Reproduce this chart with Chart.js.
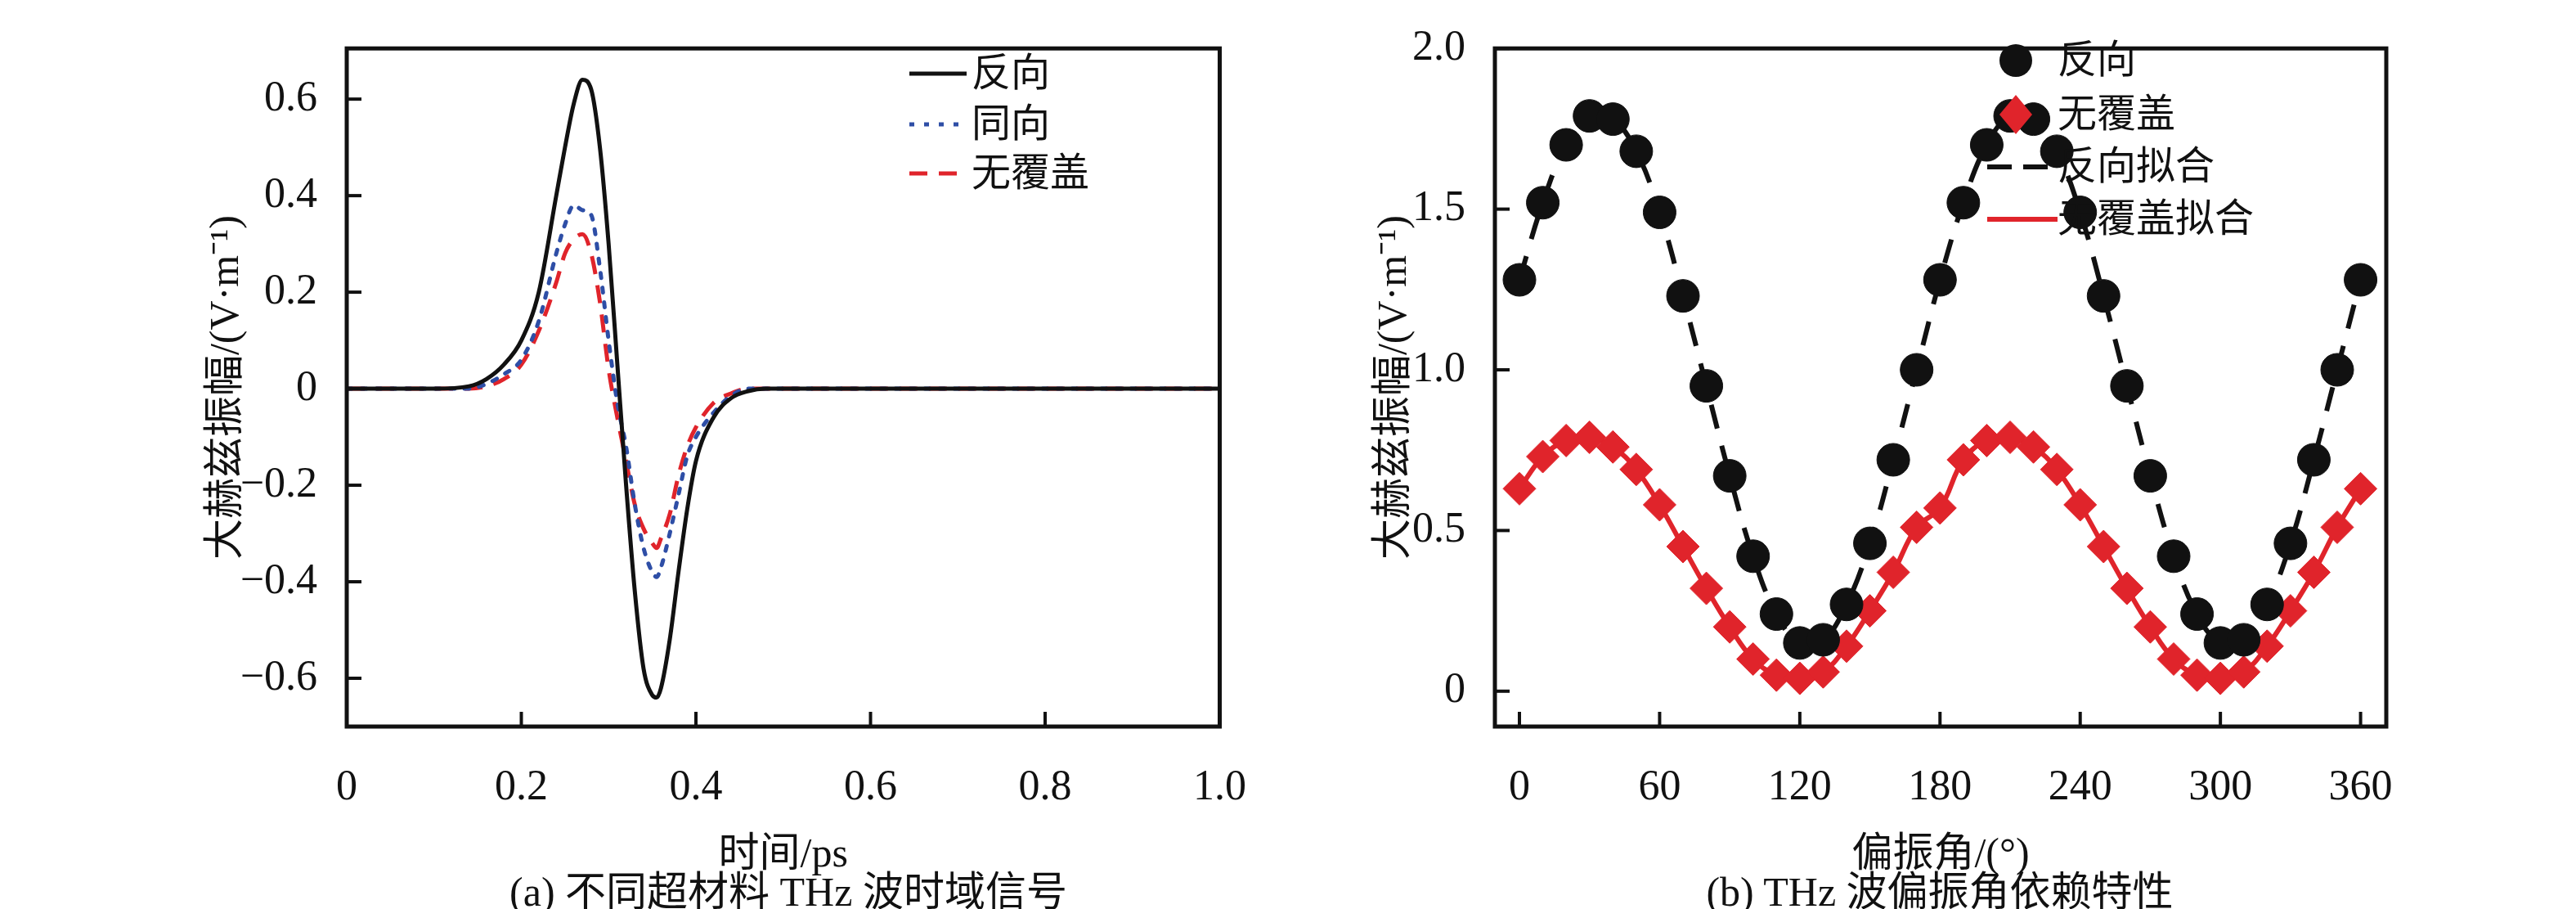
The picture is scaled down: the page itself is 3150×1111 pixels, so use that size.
<!DOCTYPE html>
<html><head><meta charset="utf-8">
<script src="https://cdn.jsdelivr.net/npm/chart.js@4"></script>
<style>
body{margin:0;background:#fff;width:3150px;height:1111px;position:relative;overflow:hidden}
canvas{position:absolute;top:0}
.cap{position:absolute;font:50px "Liberation Serif","Noto Sans CJK SC";color:#111;transform:translateX(-50%);white-space:nowrap;line-height:56px}
</style></head><body>
<canvas id="a" style="left:0" width="1560" height="1111"></canvas>
<canvas id="b" style="left:1575px" width="1400" height="1111"></canvas>
<div class="cap" style="left:964px;top:1062px">(a) 不同超材料 THz 波时域信号</div>
<div class="cap" style="left:2372px;top:1062px">(b) THz 波偏振角依赖特性</div>
<script>
// 时域信号 (ps)
const timePs = [0,0.05,0.1,0.14,0.16,0.18,0.2,0.22,0.24,0.25,0.26,0.27,0.28,0.29,0.3,0.31,0.32,0.33,0.34,0.35,0.355,0.36,0.37,0.38,0.39,0.4,0.42,0.44,0.46,0.48,0.5,0.6,0.7,0.8,0.9,1.0];
const fanxiang = [0,0,0,0.005,0.02,0.05,0.1,0.2,0.4,0.5,0.59,0.64,0.62,0.5,0.3,0.05,-0.2,-0.42,-0.58,-0.635,-0.64,-0.62,-0.52,-0.38,-0.25,-0.15,-0.06,-0.02,-0.005,0,0,0,0,0,0,0];
const tongxiang = [0,0,0,0,0.01,0.03,0.06,0.14,0.28,0.34,0.38,0.37,0.36,0.25,0.1,-0.03,-0.12,-0.24,-0.33,-0.38,-0.39,-0.37,-0.3,-0.22,-0.14,-0.1,-0.05,-0.015,0,0,0,0,0,0,0,0];
const wufugai = [0,0,0,0,0.005,0.02,0.05,0.12,0.22,0.28,0.31,0.32,0.28,0.18,0.04,-0.06,-0.15,-0.24,-0.29,-0.32,-0.33,-0.31,-0.26,-0.18,-0.12,-0.08,-0.03,-0.01,0,0,0,0,0,0,0,0];
const timeTicks = [0,0.2,0.4,0.6,0.8,1.0];
const ampTicks = [-0.6,-0.4,-0.2,0,0.2,0.4,0.6];

// 偏振角 (°)
const angles = [0,10,20,30,40,50,60,70,80,90,100,110,120,130,140,150,160,170,180,190,200,210,220,230,240,250,260,270,280,290,300,310,320,330,340,350,360];
const fanxiangAmp = [1.28,1.52,1.70,1.79,1.78,1.68,1.49,1.23,0.95,0.67,0.42,0.24,0.15,0.16,0.27,0.46,0.72,1.00,1.28,1.52,1.70,1.79,1.78,1.68,1.49,1.23,0.95,0.67,0.42,0.24,0.15,0.16,0.27,0.46,0.72,1.00,1.28];
const wufugaiAmp = [0.63,0.73,0.78,0.79,0.76,0.69,0.58,0.45,0.32,0.20,0.10,0.05,0.04,0.06,0.14,0.25,0.37,0.51,0.57,0.72,0.78,0.79,0.76,0.69,0.58,0.45,0.32,0.20,0.10,0.05,0.04,0.06,0.14,0.25,0.37,0.51,0.63];
const angleTicks = [0,60,120,180,240,300,360];
const ampTicksB = [0,0.5,1.0,1.5,2.0];

const SERIF = '"Liberation Serif","Noto Sans CJK SC"';
const pts = (xs, ys) => xs.map((x, i) => ({x, y: ys[i]}));
const fmtA = v => v === 0 ? '0' : (v < 0 ? '\u2212' : '') + Math.abs(v).toFixed(1);

function frame(ytitle, xtitle, legend) {
  return {
    id: 'frame',
    afterDraw(c) {
      const {ctx, chartArea: a, scales} = c;
      ctx.save();
      ctx.strokeStyle = '#111'; ctx.lineWidth = 5;
      ctx.strokeRect(a.left, a.top, a.right - a.left, a.bottom - a.top);
      ctx.lineWidth = 4;
      scales.x.ticks.forEach(t => { const p = scales.x.getPixelForValue(t.value); ctx.beginPath(); ctx.moveTo(p, a.bottom); ctx.lineTo(p, a.bottom - 18); ctx.stroke(); });
      scales.y.ticks.forEach(t => { const p = scales.y.getPixelForValue(t.value); ctx.beginPath(); ctx.moveTo(a.left, p); ctx.lineTo(a.left + 18, p); ctx.stroke(); });
      ctx.fillStyle = '#111'; ctx.textAlign = 'center'; ctx.textBaseline = 'middle';
      ctx.font = '50px ' + SERIF;
      // x 轴标题
      ctx.fillText(xtitle, (a.left + a.right) / 2, 1046);
      // y 轴标题
      ctx.translate(ytitle, (a.top + a.bottom) / 2);
      ctx.rotate(-Math.PI / 2);
      ctx.fillText('大赫兹振幅/(V·m⁻¹)', 0, 0);
      ctx.setTransform(1, 0, 0, 1, 0, 0);
      // 图例
      ctx.font = '48px ' + SERIF; ctx.textAlign = 'left';
      legend.forEach(l => {
        ctx.strokeStyle = l.color; ctx.fillStyle = l.color; ctx.lineWidth = l.lw || 5;
        ctx.setLineDash(l.dash || []);
        if (l.type === 'line') { ctx.beginPath(); ctx.moveTo(l.x0, l.y); ctx.lineTo(l.x1, l.y); ctx.stroke(); }
        else if (l.type === 'circle') { ctx.beginPath(); ctx.arc(l.x0, l.y, 20, 0, Math.PI * 2); ctx.fill(); }
        else { ctx.beginPath(); ctx.moveTo(l.x0, l.y - 24); ctx.lineTo(l.x0 + 20, l.y); ctx.lineTo(l.x0, l.y + 24); ctx.lineTo(l.x0 - 20, l.y); ctx.fill(); }
        ctx.setLineDash([]);
        ctx.fillStyle = '#111'; ctx.fillText(l.text, l.tx, l.y + 2);
      });
      ctx.restore();
    }
  };
}

function axes(xmin, xmax, xt, ymin, ymax, yt, xfmt, yfmt, ylw) {
  const tickFont = {family: SERIF, size: 52};
  return {
    x: {type: 'linear', min: xmin, max: xmax, grid: {display: false}, border: {display: false},
        afterBuildTicks: s => { s.ticks = xt.map(v => ({value: v})); },
        ticks: {color: '#111', font: tickFont, padding: 36, maxRotation: 0, callback: xfmt},
        afterFit: s => { s.height = 223; }},
    y: {type: 'linear', min: ymin, max: ymax, grid: {display: false}, border: {display: false},
        afterBuildTicks: s => { s.ticks = yt.map(v => ({value: v})); },
        ticks: {color: '#111', font: tickFont, padding: 28, callback: yfmt},
        afterFit: s => { s.width = ylw; }}
  };
}

new Chart(document.getElementById('a'), {
  type: 'line',
  data: {datasets: [
    {data: pts(timePs, fanxiang), borderColor: '#111', borderWidth: 5, pointRadius: 0, cubicInterpolationMode: 'monotone'},
    {data: pts(timePs, tongxiang), borderColor: '#2e4ea6', borderWidth: 5, borderDash: [6, 12], borderCapStyle: 'round', pointRadius: 0, cubicInterpolationMode: 'monotone'},
    {data: pts(timePs, wufugai), borderColor: '#e0242b', borderWidth: 5, borderDash: [22, 14], pointRadius: 0, cubicInterpolationMode: 'monotone'}
  ]},
  options: {
    responsive: false, animation: false,
    layout: {padding: {top: 30, right: 55, left: 0, bottom: 0}},
    plugins: {legend: {display: false}, tooltip: {enabled: false}},
    scales: axes(0, 1, timeTicks, -0.7, 0.705, ampTicks, v => v === 1 ? '1.0' : (v === 0 ? '0' : String(v)), fmtA, 424)
  },
  plugins: [frame(278, '时间/ps', [
    {type: 'line', color: '#111', x0: 1112, x1: 1182, y: 90, text: '反向', tx: 1188},
    {type: 'line', color: '#2e4ea6', x0: 1112, x1: 1182, y: 152, dash: [6, 12], text: '同向', tx: 1188},
    {type: 'line', color: '#e0242b', x0: 1112, x1: 1182, y: 212, dash: [22, 14], text: '无覆盖', tx: 1188}
  ])]
});

new Chart(document.getElementById('b'), {
  type: 'line',
  data: {datasets: [
    {data: pts(angles, fanxiangAmp), showLine: false, pointStyle: 'circle', pointRadius: 20, backgroundColor: '#111', borderColor: '#111', order: 1},
    {data: pts(angles, wufugaiAmp), showLine: false, pointStyle: 'rectRot', pointRadius: 20, backgroundColor: '#e0242b', borderColor: '#e0242b', order: 1},
    {data: pts(angles, fanxiangAmp), borderColor: '#111', borderWidth: 6, borderDash: [30, 22], pointRadius: 0, tension: 0.4, order: 2},
    {data: pts(angles, wufugaiAmp), borderColor: '#e0242b', borderWidth: 6, pointRadius: 0, tension: 0.4, order: 2}
  ]},
  options: {
    responsive: false, animation: false,
    layout: {padding: {top: 30, right: 57, left: 0, bottom: 0}},
    plugins: {legend: {display: false}, tooltip: {enabled: false}},
    scales: axes(-10.5, 371, angleTicks, -0.11, 2.0, ampTicksB, v => String(v), v => v === 0 ? '0' : v.toFixed(1), 253)
  },
  plugins: [frame(131, '偏振角/(°)', [
    {type: 'circle', color: '#111', x0: 890, y: 74, text: '反向', tx: 941},
    {type: 'diamond', color: '#e0242b', x0: 890, y: 140, text: '无覆盖', tx: 941},
    {type: 'line', color: '#111', x0: 855, x1: 941, y: 204, lw: 6, dash: [30, 14], text: '反向拟合', tx: 941},
    {type: 'line', color: '#e0242b', x0: 855, x1: 941, y: 268, lw: 6, text: '无覆盖拟合', tx: 941}
  ])]
});
</script>
</body></html>
